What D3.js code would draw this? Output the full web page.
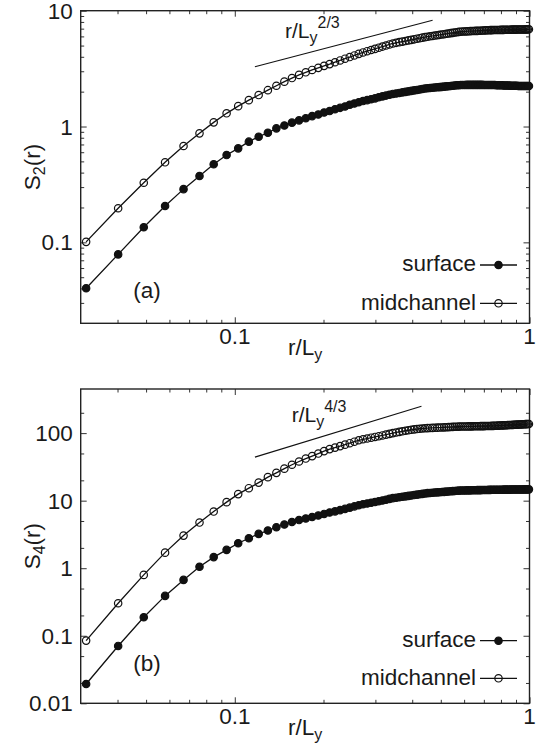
<!DOCTYPE html>
<html>
<head>
<meta charset="utf-8">
<script src="https://cdn.jsdelivr.net/npm/d3@7"></script>
<style>
  body { margin: 0; background: #fff; }
  text { font-family: "Liberation Sans", Arial, Helvetica, sans-serif; fill: #1a1a1a; }
</style>
</head>
<body>
<svg id="foo" width="547" height="750"></svg>
<script>
// separation r/Ly, same grid for all four curves
var r = [0.0313, 0.0402, 0.0491, 0.0580, 0.0670, 0.0759, 0.0848, 0.0938, 0.1027, 0.1116,
  0.1205, 0.1295, 0.1384, 0.1473, 0.1563, 0.1652, 0.1741, 0.1830, 0.1920, 0.2009,
  0.2098, 0.2188, 0.2277, 0.2366, 0.2455, 0.2545, 0.2634, 0.2723, 0.2813, 0.2902,
  0.2991, 0.3080, 0.3170, 0.3259, 0.3348, 0.3438, 0.3527, 0.3616, 0.3705, 0.3795,
  0.3884, 0.3973, 0.4063, 0.4152, 0.4241, 0.4330, 0.4420, 0.4509, 0.4598, 0.4688,
  0.4777, 0.4866, 0.4955, 0.5045, 0.5134, 0.5223, 0.5313, 0.5402, 0.5491, 0.5580,
  0.5670, 0.5759, 0.5848, 0.5938, 0.6027, 0.6116, 0.6205, 0.6295, 0.6384, 0.6473,
  0.6563, 0.6652, 0.6741, 0.6830, 0.6920, 0.7009, 0.7098, 0.7188, 0.7277, 0.7366,
  0.7455, 0.7545, 0.7634, 0.7723, 0.7813, 0.7902, 0.7991, 0.8080, 0.8170, 0.8259,
  0.8348, 0.8438, 0.8527, 0.8616, 0.8705, 0.8795, 0.8884, 0.8973, 0.9063, 0.9152,
  0.9241, 0.9330, 0.9420, 0.9509, 0.9598, 0.9688, 0.9777, 0.9866, 0.9955];

var s2Surface = [0.0402, 0.0787, 0.135, 0.206, 0.288, 0.374, 0.472, 0.567, 0.648, 0.740, 0.817, 0.884, 0.964,
  1.02, 1.08, 1.13, 1.18, 1.23, 1.27, 1.32,
  1.36, 1.41, 1.45, 1.49, 1.54, 1.58, 1.62,
  1.66, 1.69, 1.72, 1.75, 1.79, 1.82, 1.85, 1.88, 1.91,
  1.93, 1.95, 1.97, 1.99, 2.01, 2.03, 2.05, 2.07, 2.09, 2.11, 2.13,
  2.14, 2.15, 2.16, 2.17, 2.18, 2.19, 2.20, 2.21, 2.22, 2.23, 2.24, 2.25, 2.26, 2.27, 2.27,
  2.28, 2.28, 2.28, 2.29, 2.29, 2.29, 2.29, 2.29, 2.29, 2.29, 2.29, 2.29, 2.29, 2.28, 2.28, 2.28, 2.28, 2.28, 2.28,
  2.28, 2.28, 2.27, 2.27, 2.27, 2.27, 2.27, 2.26, 2.26, 2.26, 2.26, 2.26, 2.25, 2.25, 2.25, 2.25, 2.25, 2.25,
  2.24, 2.24, 2.24, 2.24, 2.24, 2.24, 2.24, 2.24, 2.24, 2.24];

var s2Mid = [0.101, 0.197, 0.327, 0.491, 0.679, 0.873, 1.086, 1.30, 1.50, 1.69, 1.87, 2.06, 2.25,
  2.44, 2.62, 2.79, 2.94, 3.08, 3.21, 3.34,
  3.46, 3.59, 3.72, 3.85, 3.98, 4.11, 4.24,
  4.36, 4.47, 4.58, 4.68, 4.79, 4.90, 5.00, 5.11, 5.21,
  5.28, 5.35, 5.41, 5.47, 5.54, 5.60, 5.66, 5.73, 5.79, 5.85, 5.91,
  5.96, 6.01, 6.05, 6.10, 6.14, 6.19, 6.23, 6.27, 6.32, 6.36, 6.40, 6.44, 6.48, 6.52, 6.56,
  6.59, 6.61, 6.62, 6.63, 6.65, 6.66, 6.67, 6.68, 6.69, 6.70, 6.71, 6.72, 6.74, 6.75, 6.76, 6.77, 6.78, 6.79, 6.80,
  6.81, 6.81, 6.82, 6.82, 6.82, 6.83, 6.83, 6.83, 6.84, 6.84, 6.85, 6.85, 6.85, 6.86, 6.86, 6.86, 6.87, 6.87,
  6.88, 6.88, 6.88, 6.89, 6.89, 6.89, 6.90, 6.90, 6.90, 6.91];

var s4Surface = [0.0193, 0.0706, 0.188, 0.389, 0.671, 1.05, 1.46, 1.87, 2.34, 2.78, 3.22, 3.61, 4.05,
  4.44, 4.83, 5.16, 5.44, 5.73, 6.04, 6.36,
  6.67, 6.95, 7.25, 7.56, 7.88, 8.22, 8.57,
  8.84, 9.07, 9.32, 9.56, 9.82, 10.08, 10.34, 10.62, 10.9,
  11.07, 11.24, 11.42, 11.59, 11.76, 11.93, 12.10, 12.28, 12.45, 12.62, 12.79,
  12.93, 13.01, 13.10, 13.18, 13.26, 13.34, 13.42, 13.50, 13.59, 13.67, 13.75, 13.83, 13.91, 13.99, 14.08,
  14.11, 14.13, 14.16, 14.18, 14.20, 14.22, 14.24, 14.26, 14.28, 14.30, 14.32, 14.34, 14.36, 14.38, 14.40, 14.42, 14.44, 14.46, 14.48,
  14.50, 14.51, 14.51, 14.52, 14.53, 14.54, 14.54, 14.55, 14.56, 14.57, 14.57, 14.58, 14.59, 14.60, 14.60, 14.61, 14.62, 14.63,
  14.63, 14.64, 14.65, 14.66, 14.66, 14.67, 14.68, 14.69, 14.69, 14.70];

var s4Mid = [0.0848, 0.303, 0.796, 1.70, 3.04, 4.74, 6.90, 9.51, 12.5, 15.3, 18.5, 22.3, 25.8,
  29.8, 34.0, 38.0, 42.0, 45.7, 49.8, 54.2,
  58.0, 61.0, 64.2, 67.5, 70.9, 74.6, 78.4,
  81.1, 83.2, 85.5, 87.7, 90.0, 92.4, 94.9, 97.4, 100,
  102.2, 104.3, 106.4, 108.4, 110.3, 112.0, 113.5, 114.8, 116.0, 117.0, 117.9,
  118.6, 119.2, 119.7, 120.2, 120.6, 121.0, 121.4, 121.8, 122.3, 122.7, 123.1, 123.6, 124.0, 124.4, 124.9,
  125.1, 125.3, 125.4, 125.6, 125.7, 125.9, 126.0, 126.2, 126.3, 126.5, 126.6, 126.8, 127.0, 127.1, 127.3, 127.4, 127.6, 127.7, 127.9,
  128.1, 128.4, 128.7, 129.0, 129.3, 129.7, 130.0, 130.3, 130.6, 130.9, 131.3, 131.6, 131.9, 132.2, 132.5, 132.8, 133.2, 133.5,
  133.8, 134.1, 134.4, 134.8, 135.1, 135.4, 135.7, 136.0, 136.3, 136.7];

// power-law guide lines: [r, S] end points
var guide2 = [[0.117, 3.28], [0.469, 8.28]];
var guide4 = [[0.117, 44.1], [0.430, 250.6]];

// ticks
var xMajor = [0.1, 1];
var xMinor = [0.04, 0.05, 0.06, 0.07, 0.08, 0.09, 0.2, 0.3, 0.4, 0.5, 0.6, 0.7, 0.8, 0.9];
var y2Major = [0.1, 1, 10];
var y2Minor = [0.03, 0.04, 0.05, 0.06, 0.07, 0.08, 0.09, 0.2, 0.3, 0.4, 0.5, 0.6, 0.7, 0.8, 0.9,
  2, 3, 4, 5, 6, 7, 8, 9];
var y4Major = [0.01, 0.1, 1, 10, 100];
var y4Minor = [0.02, 0.05, 0.2, 0.5, 2, 5, 20, 50, 200];

var seriesNames = ["surface", "midchannel"];

var svg = d3.select('#foo');
var left = 80.7, right = 529.5;
var markR = 3.7;

function fmt(v) {
  return v < 1 ? String(v) : d3.format("d")(v);
}

function drawPanel(p) {
  var x = d3.scaleLog().domain([0.03, 1]).range([left, right]);
  var y = d3.scaleLog().domain(p.yDomain).range([p.bottom, p.top]);
  var g = svg.append("g");

  // inward ticks on all four sides
  var axes = [
    [d3.axisBottom(x), "translate(0," + p.bottom + ")", xMajor, xMinor],
    [d3.axisTop(x), "translate(0," + p.top + ")", xMajor, xMinor],
    [d3.axisLeft(y), "translate(" + left + ",0)", p.yMajor, p.yMinor],
    [d3.axisRight(y), "translate(" + right + ",0)", p.yMajor, p.yMinor]
  ];
  axes.forEach(function (a) {
    g.append("g").attr("transform", a[1])
      .call(a[0].tickValues(a[2]).tickSize(-6).tickFormat(""))
      .call(function (s) { s.select(".domain").remove(); });
    g.append("g").attr("transform", a[1])
      .call(a[0].tickValues(a[3]).tickSize(-3.5).tickFormat(""))
      .call(function (s) { s.select(".domain").remove(); });
  });
  g.selectAll(".tick line").attr("stroke", "#333").attr("stroke-width", 1);

  g.append("rect")
    .attr("x", left).attr("y", p.top)
    .attr("width", right - left).attr("height", p.bottom - p.top)
    .style("fill", "none").style("stroke", "#222").style("stroke-width", 1.4);

  // tick labels
  g.selectAll(".xl").data(xMajor).enter().append("text")
    .attr("x", function (d) { return x(d); })
    .attr("y", p.bottom + 21)
    .attr("text-anchor", "middle")
    .style("font-size", "22.5px")
    .text(fmt);
  g.selectAll(".yl").data(p.yMajor).enter().append("text")
    .attr("x", left - 8)
    .attr("y", function (d) { return y(d); })
    .attr("dy", "0.36em")
    .attr("text-anchor", "end")
    .style("font-size", "22.5px")
    .text(fmt);

  // axis titles
  var xt = g.append("text")
    .attr("x", (left + right) / 2).attr("y", p.bottom + 32)
    .attr("text-anchor", "middle").style("font-size", "22.5px");
  xt.append("tspan").text("r/L");
  xt.append("tspan").attr("dy", 5).style("font-size", "16px").text("y");

  var yt = g.append("text")
    .attr("transform", "translate(40," + (p.top + p.bottom) / 2 + ") rotate(-90)")
    .attr("text-anchor", "middle").style("font-size", "22.5px");
  yt.append("tspan").text("S");
  yt.append("tspan").attr("dy", 5).style("font-size", "16px").text(p.order);
  yt.append("tspan").attr("dy", -5).text("(r)");

  // guide line and its label
  g.append("line")
    .attr("x1", x(p.guide[0][0])).attr("y1", y(p.guide[0][1]))
    .attr("x2", x(p.guide[1][0])).attr("y2", y(p.guide[1][1]))
    .style("stroke", "#111").style("stroke-width", 1.1);
  var gl = g.append("text")
    .attr("x", p.guideLabel[0]).attr("y", p.guideLabel[1])
    .style("font-size", "21px");
  gl.append("tspan").text("r/L");
  gl.append("tspan").attr("dy", 5).style("font-size", "16px").text("y");
  gl.append("tspan").attr("dy", -15).style("font-size", "16px").text(p.exponent);

  // panel letter
  g.append("text")
    .attr("x", 147).attr("y", p.letterY)
    .attr("text-anchor", "middle").style("font-size", "22.5px")
    .text(p.letter);

  // curves
  var line = d3.line()
    .x(function (d) { return x(d[0]); })
    .y(function (d) { return y(d[1]); });

  [p.surface, p.mid].forEach(function (vals, i) {
    var pts = r.map(function (rv, k) { return [rv, vals[k]]; });
    g.append("path").datum(pts)
      .attr("d", line)
      .style("fill", "none").style("stroke", "#111").style("stroke-width", 1.3);
    g.selectAll(".pt" + i).data(pts).enter().append("circle")
      .attr("cx", function (d) { return x(d[0]); })
      .attr("cy", function (d) { return y(d[1]); })
      .attr("r", markR)
      .style("fill", i === 0 ? "#111" : "none")
      .style("stroke", "#111")
      .style("stroke-width", 1.2);
  });

  // legend
  seriesNames.forEach(function (name, i) {
    var ly = p.legendY[i];
    g.append("text")
      .attr("x", 476).attr("y", ly)
      .attr("dy", "0.28em")
      .attr("text-anchor", "end").style("font-size", "22.5px")
      .text(name);
    g.append("line")
      .attr("x1", 480).attr("x2", 517).attr("y1", ly).attr("y2", ly)
      .style("stroke", "#111").style("stroke-width", 1.3);
    g.append("circle")
      .attr("cx", 498.5).attr("cy", ly).attr("r", markR)
      .style("fill", i === 0 ? "#111" : "none")
      .style("stroke", "#111").style("stroke-width", 1.2);
  });
}

drawPanel({
  top: 10.7, bottom: 323.3, yDomain: [0.02, 10],
  yMajor: y2Major, yMinor: y2Minor,
  surface: s2Surface, mid: s2Mid, order: "2",
  guide: guide2, guideLabel: [285, 38], exponent: "2/3",
  letter: "(a)", letterY: 298.3, legendY: [265, 303.3]
});

drawPanel({
  top: 389, bottom: 703.3, yDomain: [0.01, 450],
  yMajor: y4Major, yMinor: y4Minor,
  surface: s4Surface, mid: s4Mid, order: "4",
  guide: guide4, guideLabel: [291.7, 421.7], exponent: "4/3",
  letter: "(b)", letterY: 671, legendY: [640.7, 678.3]
});
</script>
</body>
</html>
